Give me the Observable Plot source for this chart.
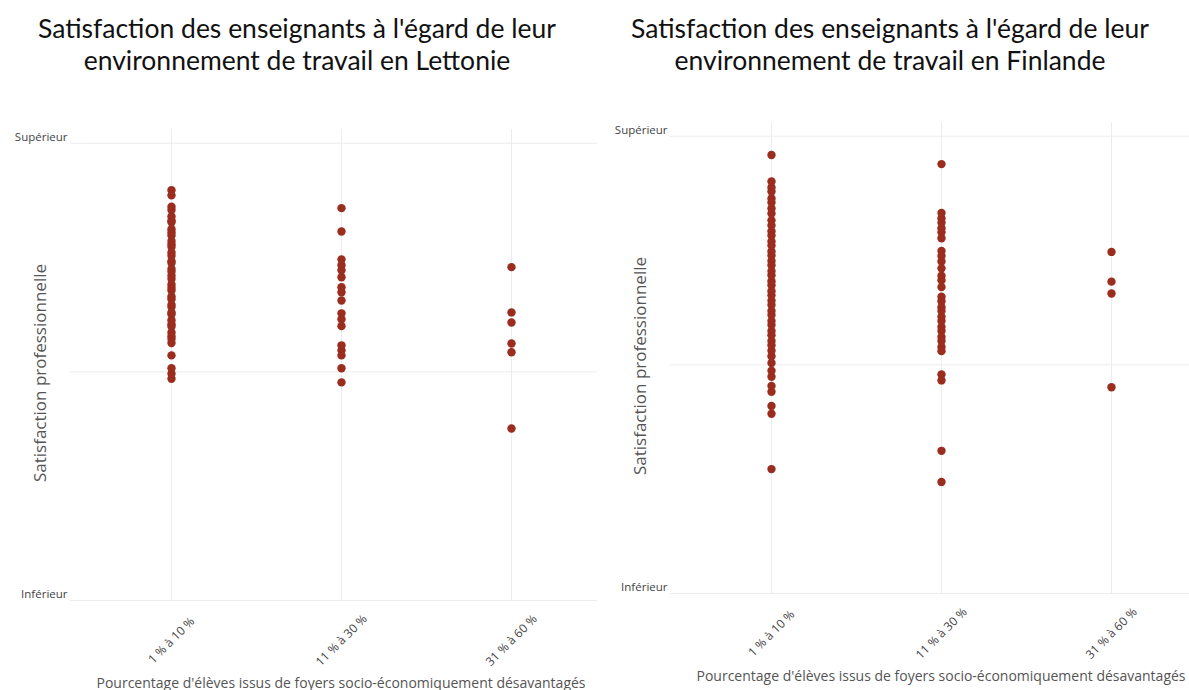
<!DOCTYPE html>
<html>
<head>
<meta charset="utf-8">
<script src="https://cdn.jsdelivr.net/npm/d3@7"></script>
<script src="https://cdn.jsdelivr.net/npm/@observablehq/plot@0.6"></script>
<style>
  html, body { margin: 0; padding: 0; background: #fff; }
  body { width: 1189px; height: 690px; position: relative; overflow: hidden; }
  .title { position: absolute; top: 12px; width: 594px; text-align: center;
           font-family: Lato, "Open Sans", sans-serif; font-size: 26.5px; font-weight: 400;
           line-height: 32px; color: #111; }
  .panel { position: absolute; overflow: hidden; height: 597px; }
  .panel svg { max-width: none !important; }
</style>
</head>
<body>
<div class="title" id="t1" style="left:0px;"></div>
<div class="title" id="t2" style="left:593px;"></div>
<div class="panel" id="p1" style="left:0px; top:100px; width:597px;"></div>
<div class="panel" id="p2" style="left:600px; top:93px; width:589px;"></div>
<script>
// ---- Data ----
const titles = [
  "Satisfaction des enseignants à l'égard de leur<br>environnement de travail en Lettonie",
  "Satisfaction des enseignants à l'égard de leur<br>environnement de travail en Finlande"
];
const categories = ["1 % à 10 %", "11 % à 30 %", "31 % à 60 %"];
const yTicks = [0, 50, 100];
const yTickLabels = ["Inférieur", "", "Supérieur"];
const yTitle = "Satisfaction professionnelle";
const xTitle = "Pourcentage d'élèves issus de foyers socio-économiquement désavantagés";

// Lettonie (0 = Inférieur, 100 = Supérieur)
const lettonie_1_10 = [89.7, 88.6, 86.1, 85.4, 84.0, 83.1, 82.7, 81.2, 80.5, 79.8, 78.6, 77.9, 77.3, 76.1,
  75.4, 74.2, 73.8, 72.5, 71.9, 71.0, 70.3, 69.1, 68.4, 67.8, 66.5, 65.9, 64.7, 64.2, 63.0, 62.6, 61.3,
  60.4, 59.9, 58.6, 57.8, 57.2, 56.3, 53.6, 50.8, 49.6, 48.5];
const lettonie_11_30 = [85.8, 80.7, 74.6, 73.3, 72.2, 70.7, 68.5, 67.4, 65.6, 62.8, 61.5, 60.0, 55.8, 54.7,
  53.6, 50.8, 47.7];
const lettonie_31_60 = [72.9, 63.0, 60.8, 56.2, 54.3, 37.6];

// Finlande
const finlande_1_10 = [95.9, 90.1, 88.8, 87.9, 86.4, 85.5, 84.2, 83.1, 81.6, 80.5, 79.2, 78.3, 77.0, 76.1,
  74.8, 73.9, 72.7, 71.8, 70.5, 69.6, 68.3, 67.4, 66.1, 65.2, 64.0, 63.1, 61.8, 60.9, 59.6, 58.7, 57.4,
  56.5, 55.2, 54.3, 53.1, 51.9, 50.4, 48.7, 47.4, 45.4, 44.1, 41.0, 39.3, 27.2];
const finlande_11_30 = [93.9, 83.2, 82.0, 81.1, 79.9, 79.0, 77.7, 74.9, 73.8, 72.6, 71.1, 69.5, 68.5, 67.0,
  64.9, 63.9, 62.6, 61.8, 60.5, 59.6, 58.3, 57.4, 56.1, 55.2, 53.9, 53.0, 47.9, 46.6, 31.2, 24.4];
const finlande_31_60 = [74.7, 68.2, 65.6, 45.1];

const panels = [
  {series: [lettonie_1_10, lettonie_11_30, lettonie_31_60]},
  {series: [finlande_1_10, finlande_11_30, finlande_31_60]}
];

function rows(series) {
  const out = [];
  series.forEach((vals, i) => vals.forEach(v => out.push({cat: categories[i], v})));
  return out;
}

function makePanel(series) {
  const grid = "#ececec";
  const svg = Plot.plot({
    width: 611,
    height: 590,
    marginLeft: 70,
    marginRight: 0,
    marginTop: 29,
    marginBottom: 90,
    style: {fontFamily: "'Open Sans', sans-serif", background: "transparent", overflow: "visible"},
    x: {type: "point", domain: categories, padding: 0.5865, axis: null},
    y: {domain: [0, 103], axis: null},
    marks: [
      Plot.ruleY(yTicks, {stroke: grid, strokeWidth: 1}),
      Plot.ruleX(categories, {stroke: grid, strokeWidth: 1}),
      Plot.text(yTicks, {y: d => d, text: (d, i) => yTickLabels[i], frameAnchor: "left",
        textAnchor: "end", dx: -3, dy: -6, fontSize: 11.5, fill: "#444"}),
      Plot.text(categories, {x: d => d, text: d => d, frameAnchor: "bottom", dy: 40, rotate: -45,
        textAnchor: "middle", lineAnchor: "middle", fontSize: 12, fill: "#444"}),
      Plot.text([yTitle], {frameAnchor: "left", dx: -30, dy: 8, rotate: -90, textAnchor: "middle",
        lineAnchor: "middle", fontSize: 17, fill: "#555"}),
      Plot.text([xTitle], {frameAnchor: "bottom", dy: 83, textAnchor: "middle", lineAnchor: "middle",
        fontSize: 14, fill: "#555"}),
      Plot.dot(rows(series), {x: "cat", y: "v", r: 4.2, fill: "#9b2d1f", stroke: "none"})
    ]
  });
  svg.style.maxWidth = "none";
  return svg;
}

document.getElementById("t1").innerHTML = titles[0];
document.getElementById("t2").innerHTML = titles[1];
document.getElementById("p1").appendChild(makePanel(panels[0].series));
document.getElementById("p2").appendChild(makePanel(panels[1].series));
</script>
</body>
</html>
